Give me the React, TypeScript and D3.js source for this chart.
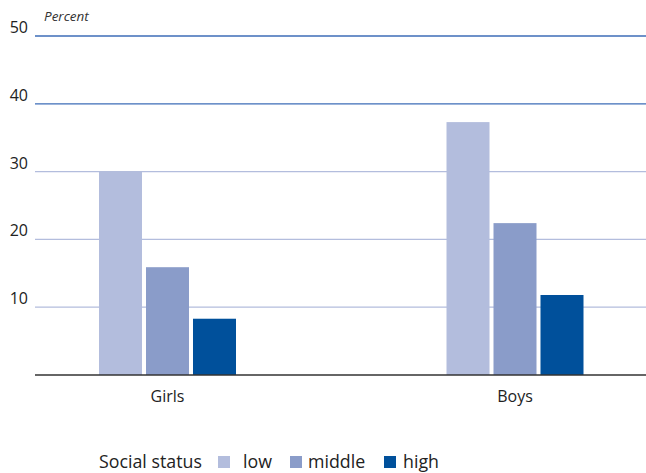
import React from "react";
import * as d3 from "d3";

const categories = ["Girls", "Boys"];
const series = ["low", "middle", "high"];
const lowValues = [30.0, 37.3];
const middleValues = [15.9, 22.4];
const highValues = [8.3, 11.8];
const yTicks = [10, 20, 30, 40, 50];
const colors = ["#b3bddd", "#8a9cc9", "#00509b"];

export default function App() {
  const W = 646, H = 473;
  const left = 35, right = 646, top = 36, bottom = 375;
  const y = d3.scaleLinear().domain([0, 50]).range([bottom, top]);
  const x0 = d3.scalePoint<string>().domain(categories).range([167.5, 515]);
  const x1 = d3.scaleBand<string>().domain(series).range([-68.5, 68.5]).paddingInner(0.085);
  const values = [lowValues, middleValues, highValues];
  const font = "'Open Sans', 'DejaVu Sans', sans-serif";

  const legendItems = [
    { sq: 218, tx: 243 },
    { sq: 290, tx: 308 },
    { sq: 384, tx: 403 },
  ];

  return (
    <svg width={W} height={H} style={{ position: "absolute", left: 0, top: 0, background: "#fff" }} fontFamily={font}>
      <text x={44} y={21} fontSize={13.5} fontStyle="italic" fill="#333">Percent</text>
      {yTicks.map((t) => (
        <g key={t}>
          <line x1={left} x2={right} y1={y(t)} y2={y(t)} stroke={t >= 40 ? "#3d6cb7" : "#b3bddd"} strokeWidth={1.3} />
          <text x={28} y={y(t) - 3} textAnchor="end" fontSize={16} fill="#222">{t}</text>
        </g>
      ))}
      {categories.map((c, ci) => (
        <g key={c} transform={`translate(${x0(c)},0)`}>
          {series.map((s, si) => (
            <rect key={s} x={x1(s)!} width={x1.bandwidth()} y={y(values[si][ci])} height={bottom - y(values[si][ci])} fill={colors[si]} />
          ))}
          <text x={0} y={402} textAnchor="middle" fontSize={16} fill="#222">{c}</text>
        </g>
      ))}
      <line x1={left} x2={right} y1={bottom} y2={bottom} stroke="#333" strokeWidth={1.5} />
      <text x={99} y={468} fontSize={17.8} fill="#222">Social status</text>
      {series.map((s, i) => (
        <g key={s}>
          <rect x={legendItems[i].sq} y={456} width={12} height={12} fill={colors[i]} />
          <text x={legendItems[i].tx} y={468} fontSize={17.8} fill="#222">{s}</text>
        </g>
      ))}
    </svg>
  );
}
